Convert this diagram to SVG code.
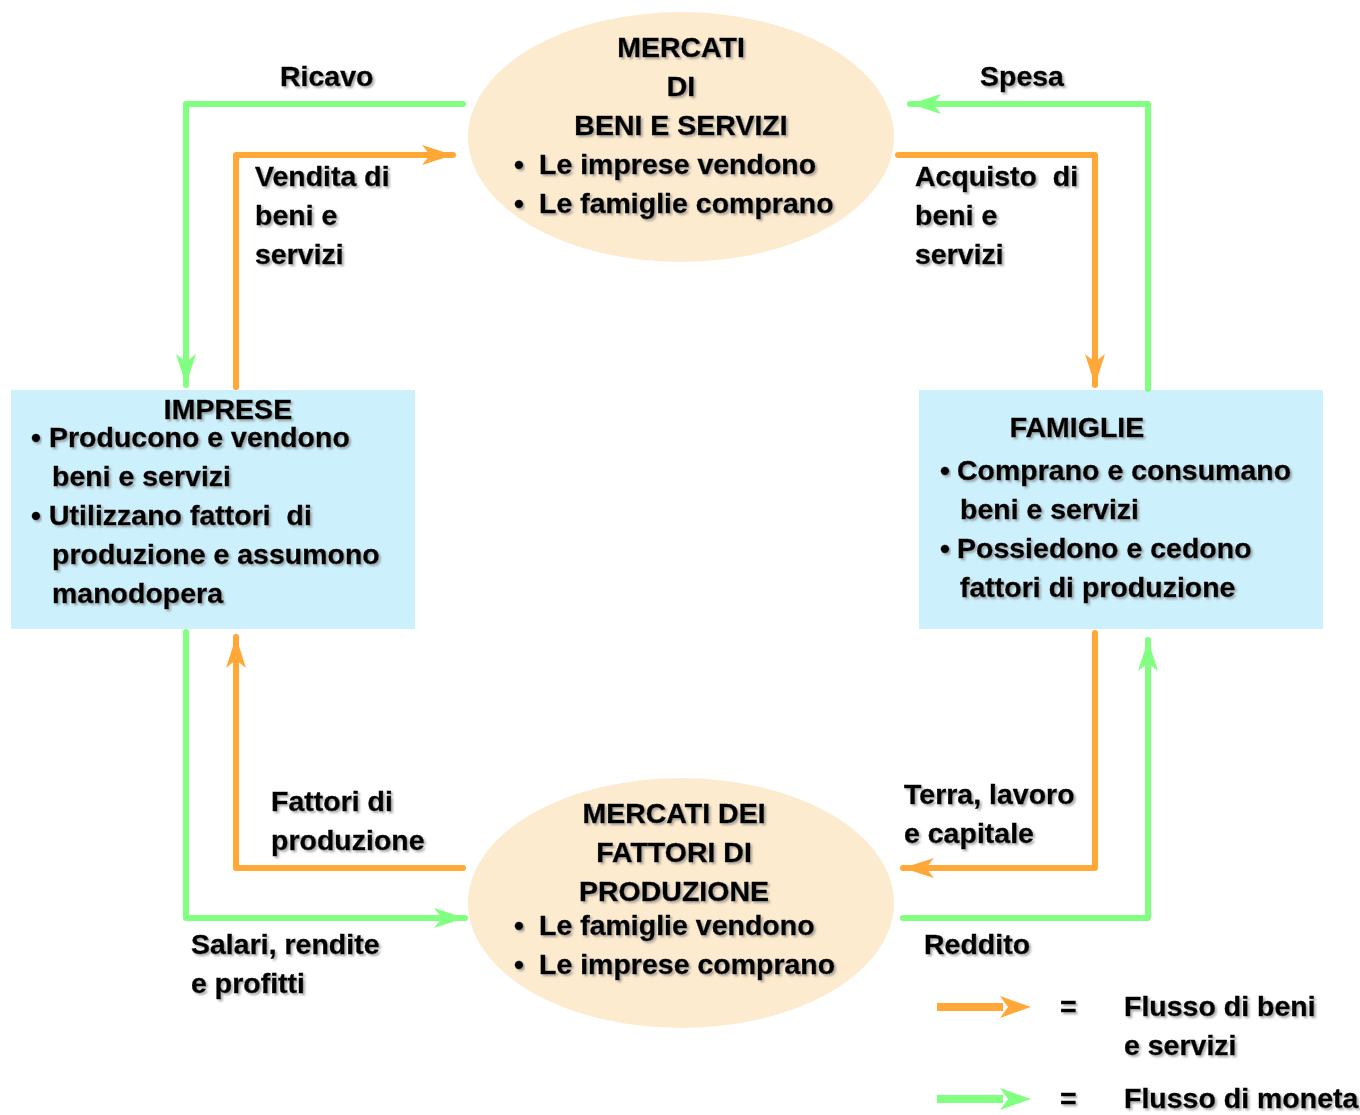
<svg xmlns="http://www.w3.org/2000/svg" width="1360" height="1115" viewBox="0 0 1360 1115">
<defs>
<filter id="sh" x="-5%" y="-20%" width="110%" height="140%">
<feDropShadow dx="2" dy="2" stdDeviation="0.8" flood-color="#777" flood-opacity="0.6"/>
</filter>
<marker id="ao" markerUnits="userSpaceOnUse" viewBox="-32 -11 34 22" refX="0" refY="0" markerWidth="34" markerHeight="22" orient="auto">
<path d="M0,0 L-31,-10 L-23,0 L-31,10 Z" fill="#ffa838"/>
</marker>
<marker id="ag" markerUnits="userSpaceOnUse" viewBox="-32 -11 34 22" refX="0" refY="0" markerWidth="34" markerHeight="22" orient="auto">
<path d="M0,0 L-31,-10 L-23,0 L-31,10 Z" fill="#80ff80"/>
</marker>
</defs>
<style>
text{font-family:"Liberation Sans",Arial,sans-serif;font-weight:bold;font-size:28.5px;fill:#000;stroke:#000;stroke-width:0.4;white-space:pre;filter:url(#sh)}
.c{text-anchor:middle}
.o{fill:none;stroke:#ffa838;stroke-width:6;stroke-linecap:round;stroke-linejoin:round}
.g{fill:none;stroke:#80ff80;stroke-width:6;stroke-linecap:round;stroke-linejoin:round}
.ell{fill:#fdebd0}
.box{fill:#ccf0fc}
</style>
<rect width="1360" height="1115" fill="#fff"/>

<g id="mercati-beni">
<ellipse class="ell" cx="681" cy="137" rx="213" ry="125"/>
<text class="c" x="681" y="57">MERCATI</text>
<text class="c" x="681" y="96">DI</text>
<text class="c" x="681" y="135">BENI E SERVIZI</text>
<text x="514" y="174">•</text><text x="539" y="174">Le imprese vendono</text>
<text x="514" y="213">•</text><text x="539" y="213">Le famiglie comprano</text>
</g>

<g id="mercati-fattori">
<ellipse class="ell" cx="681" cy="903" rx="213" ry="125"/>
<text class="c" x="674" y="823">MERCATI DEI</text>
<text class="c" x="674" y="862">FATTORI DI</text>
<text class="c" x="674" y="901">PRODUZIONE</text>
<text x="514" y="935">•</text><text x="539" y="935">Le famiglie vendono</text>
<text x="514" y="974">•</text><text x="539" y="974">Le imprese comprano</text>
</g>

<g id="imprese">
<rect class="box" x="11" y="390" width="404" height="239"/>
<text class="c" x="228" y="419">IMPRESE</text>
<text x="31" y="447">•</text><text x="49" y="447">Producono e vendono</text>
<text x="52" y="486">beni e servizi</text>
<text x="31" y="525">•</text><text x="49" y="525">Utilizzano fattori  di</text>
<text x="52" y="564">produzione e assumono</text>
<text x="52" y="603">manodopera</text>
</g>

<g id="famiglie">
<rect class="box" x="919" y="390" width="404" height="239"/>
<text class="c" x="1077" y="437">FAMIGLIE</text>
<text x="940" y="480">•</text><text x="957" y="480">Comprano e consumano</text>
<text x="960" y="519">beni e servizi</text>
<text x="940" y="558">•</text><text x="957" y="558">Possiedono e cedono</text>
<text x="960" y="597">fattori di produzione</text>
</g>

<g id="connectors">
<path class="g" d="M463,104 H186 V385" marker-end="url(#ag)"/>
<path class="o" d="M236,387 V155 H453" marker-end="url(#ao)"/>
<path class="g" d="M1148,389 V104 H910" marker-end="url(#ag)"/>
<path class="o" d="M898,155 H1095 V385" marker-end="url(#ao)"/>
<path class="o" d="M1095,633 V868 H903" marker-end="url(#ao)"/>
<path class="g" d="M903,918 H1148 V640" marker-end="url(#ag)"/>
<path class="o" d="M463,868 H236 V637" marker-end="url(#ao)"/>
<path class="g" d="M186,632 V918 H465" marker-end="url(#ag)"/>
</g>

<g id="labels">
<text x="280" y="86">Ricavo</text>
<text x="980" y="86">Spesa</text>
<text x="255" y="186">Vendita di</text>
<text x="255" y="225">beni e</text>
<text x="255" y="264">servizi</text>
<text x="915" y="186">Acquisto  di</text>
<text x="915" y="225">beni e</text>
<text x="915" y="264">servizi</text>
<text x="271" y="811">Fattori di</text>
<text x="271" y="850">produzione</text>
<text x="904" y="804">Terra, lavoro</text>
<text x="904" y="843">e capitale</text>
<text x="191" y="954">Salari, rendite</text>
<text x="191" y="993">e profitti</text>
<text x="924" y="954">Reddito</text>
</g>

<g id="legend">
<path d="M937,1007 H1003" stroke="#ffa838" stroke-width="8" fill="none"/>
<path d="M1031,1007 L1000,996 L1008,1007 L1000,1018 Z" fill="#ffa838"/>
<path d="M937,1099 H1003" stroke="#80ff80" stroke-width="8" fill="none"/>
<path d="M1031,1099 L1000,1088 L1008,1099 L1000,1110 Z" fill="#80ff80"/>
<text x="1060" y="1016">=</text>
<text x="1060" y="1108">=</text>
<text x="1124" y="1016">Flusso di beni</text>
<text x="1124" y="1055">e servizi</text>
<text x="1124" y="1108">Flusso di moneta</text>
</g>
</svg>
